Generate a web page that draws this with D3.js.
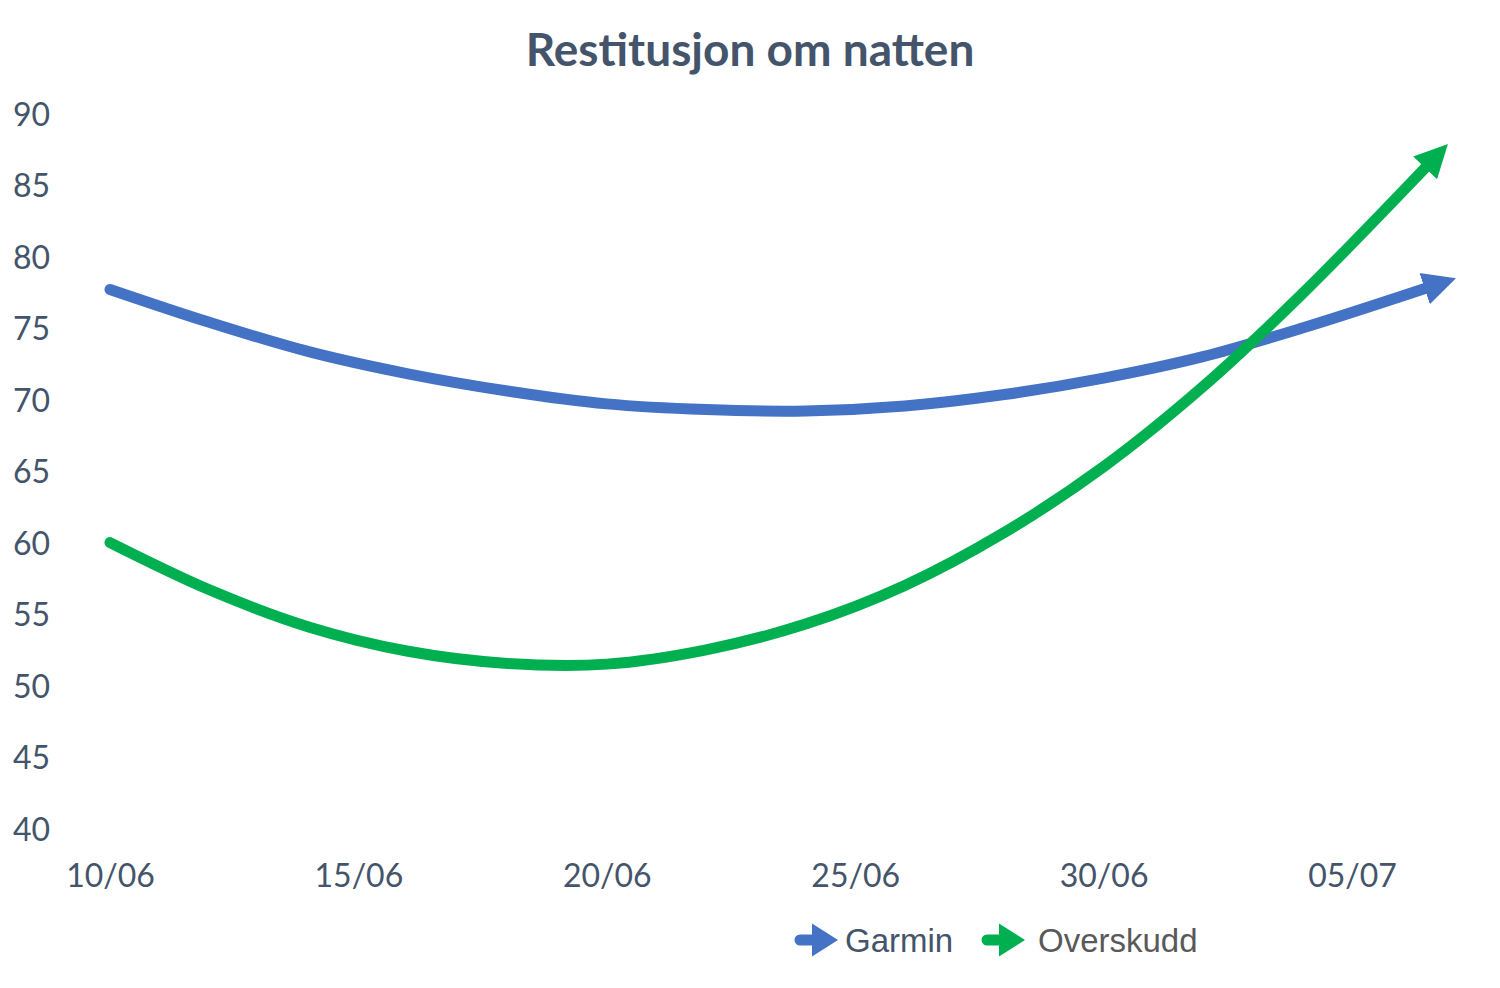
<!DOCTYPE html>
<html>
<head>
<meta charset="utf-8">
<script src="https://cdn.jsdelivr.net/npm/d3@7"></script>
<style>
  body { margin: 0; background: #fff; }
</style>
</head>
<body>
<div id="chart"></div>
<script>
// days counted from 10/06
var days = [0, 2, 4, 6, 8, 10, 12, 14, 16, 18, 20, 22, 24, 26.5];
var garmin = [77.8, 75.5, 73.45, 71.9, 70.7, 69.8, 69.4, 69.3, 69.65, 70.45, 71.6, 73.1, 75.1, 77.9];
var overskudd = [60.1, 56.8, 54.2, 52.5, 51.65, 51.6, 52.6, 54.4, 57.1, 60.8, 65.4, 71.0, 77.5, 86.4];
var tickDays = [0, 5, 10, 15, 20, 25];
var tickLabels = ["10/06", "15/06", "20/06", "25/06", "30/06", "05/07"];
var yTicks = [40, 45, 50, 55, 60, 65, 70, 75, 80, 85, 90];
var seriesNames = ["Garmin", "Overskudd"];
var seriesColors = ["#4472C4", "#00B050"];
var legendTextColors = ["#44546A", "#595959"];

var width = 1500, height = 988;
var svg = d3.select("#chart").append("svg")
    .attr("width", width)
    .attr("height", height);

var defs = svg.append("defs");
seriesColors.forEach(function (c, i) {
    defs.append("marker")
        .attr("id", "arrow" + i)
        .attr("markerUnits", "userSpaceOnUse")
        .attr("viewBox", "0 -17 33 34")
        .attr("refX", 2)
        .attr("refY", 0)
        .attr("markerWidth", 33)
        .attr("markerHeight", 34)
        .attr("orient", "auto")
        .append("path")
        .attr("d", "M0,-16.5L33,0L0,16.5Z")
        .attr("fill", c);
});

svg.append("text")
    .attr("x", 750)
    .attr("y", 66)
    .attr("text-anchor", "middle")
    .style("font-family", "Lato, 'Open Sans', sans-serif")
    .style("font-weight", "bold")
    .style("font-size", "46px")
    .style("fill", "#44546A")
    .text("Restitusjon om natten");

var xScale = d3.scaleLinear().domain([0, 25]).range([110, 1352]);
var yScale = d3.scaleLinear().domain([40, 90]).range([830, 115]);

var yAxis = d3.axisLeft(yScale).tickValues(yTicks).tickSize(0).tickPadding(0);
var yg = svg.append("g")
    .attr("transform", "translate(50,0)")
    .call(yAxis);
yg.select(".domain").remove();
yg.selectAll("text")
    .style("font-family", "Lato, 'Open Sans', sans-serif")
    .style("font-size", "32px")
    .style("fill", "#44546A");

var xAxis = d3.axisBottom(xScale).tickValues(tickDays).tickSize(0).tickPadding(0)
    .tickFormat(function (d, i) { return tickLabels[i]; });
var xg = svg.append("g")
    .attr("transform", "translate(0,864)")
    .call(xAxis);
xg.select(".domain").remove();
xg.selectAll("text")
    .attr("dy", "0.71em")
    .style("font-family", "Lato, 'Open Sans', sans-serif")
    .style("font-size", "32px")
    .style("fill", "#44546A");

var line = d3.line()
    .x(function (d) { return xScale(d[0]); })
    .y(function (d) { return yScale(d[1]); })
    .curve(d3.curveCatmullRom.alpha(0.5));

[garmin, overskudd].forEach(function (vals, i) {
    svg.append("path")
        .datum(days.map(function (d, j) { return [d, vals[j]]; }))
        .attr("d", line)
        .attr("fill", "none")
        .attr("stroke", seriesColors[i])
        .attr("stroke-width", 11)
        .attr("stroke-linecap", "round")
        .attr("marker-end", "url(#arrow" + i + ")");
});

// legend
var legendX = [800, 987];
var legendTextX = [45, 51];
seriesNames.forEach(function (name, i) {
    var g = svg.append("g").attr("transform", "translate(" + legendX[i] + ",940)");
    g.append("line")
        .attr("x1", 0).attr("x2", 12)
        .attr("y1", 0).attr("y2", 0)
        .attr("stroke", seriesColors[i])
        .attr("stroke-width", 11)
        .attr("stroke-linecap", "round");
    g.append("path")
        .attr("d", "M12,-16.5L38,0L12,16.5Z")
        .attr("fill", seriesColors[i]);
    g.append("text")
        .attr("x", legendTextX[i])
        .attr("y", 12)
        .style("font-family", "'Liberation Sans', Arial, sans-serif")
        .style("font-size", "33px")
        .style("fill", legendTextColors[i])
        .text(name);
});
</script>
</body>
</html>
